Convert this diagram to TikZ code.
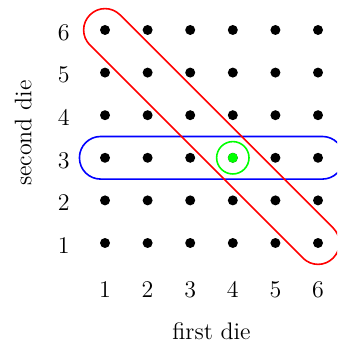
\documentclass[tikz,border=0pt]{standalone}
\begin{document}
\begin{tikzpicture}[x=0.75cm,y=0.75cm,font=\large,
  dot/.style={circle,fill=black,inner sep=0pt,minimum size=5pt},
  gdot/.style={circle,fill=green,inner sep=0pt,minimum size=5pt},
  lab/.style={inner sep=1pt}]
\clip (-1.465,-1.418) rectangle (6.446,6.704);
\foreach \i in {1,...,6}{
  \foreach \j in {1,...,6}{
    \node[dot] (d-\i-\j) at (\i,\j) {};
  }
  \node[lab] (xl-\i) at (\i,-0.09) {\i};
  \node[lab] (yl-\i) at (0.03,\i-0.06) {\i};
}
\node[gdot] (g) at (4,3) {};
\node[draw=green,thick,circle,minimum size=0.76*0.75cm,inner sep=0pt] (gc) at (4,3) {};
\node[lab] (xlabel) at (3.5,-1.07) {first die};
\node[lab,rotate=90] (ylabel) at (-0.92,3.58) {second die};
\draw[blue,thick,rounded corners=10.6pt] (0.4,2.5) rectangle (6.6,3.5);
\draw[red,thick,rounded corners=10.6pt,rotate around={-45:(3.5,3.5)}]
  (-0.536,3) rectangle (7.536,4);
\end{tikzpicture}
\end{document}
